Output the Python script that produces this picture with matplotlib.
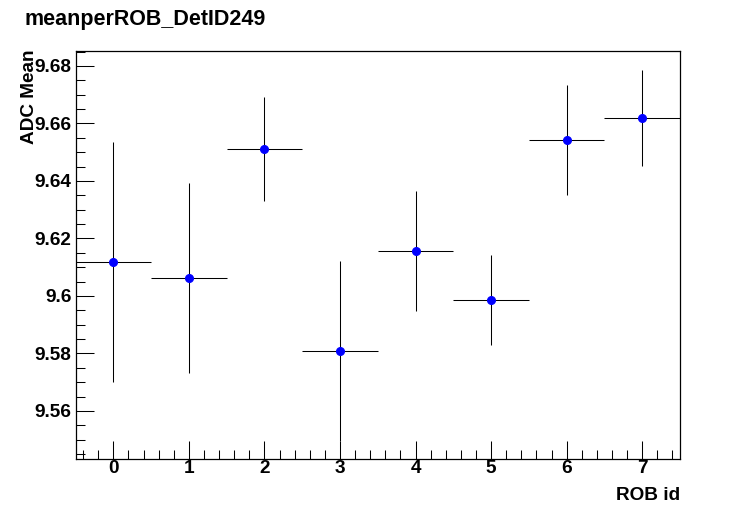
import numpy as np
import matplotlib
matplotlib.use("Agg")
from matplotlib import pyplot as plt
from matplotlib.ticker import MultipleLocator, FixedLocator

rob_id = [0, 1, 2, 3, 4, 5, 6, 7]
adc_mean = [9.6118, 9.6063, 9.6511, 9.5809, 9.6157, 9.5986, 9.6543, 9.6619]
adc_err = [0.0416, 0.0330, 0.0181, 0.0313, 0.0209, 0.0157, 0.0192, 0.0167]
y_ticks = [9.56, 9.58, 9.60, 9.62, 9.64, 9.66, 9.68]
y_labels = ["9.56", "9.58", "9.6", "9.62", "9.64", "9.66", "9.68"]

plt.rcParams['font.family'] = ['Liberation Sans', 'DejaVu Sans']
plt.rcParams['font.weight'] = 'bold'

fig = plt.figure(figsize=(7.56, 5.11), dpi=100)
ax = fig.add_axes([75.5 / 756, 1 - 459 / 511, (680 - 75.5) / 756, (459 - 51) / 511])

ax.errorbar(rob_id, adc_mean, xerr=0.5, yerr=adc_err, fmt='none',
            ecolor='black', elinewidth=0.75, capsize=0)
ax.plot(rob_id, adc_mean, 'o', color='blue', markersize=5.5, zorder=3)

ax.set_xlim(-0.5, 7.5)
ax.set_ylim(9.5433, 9.6852)

ax.xaxis.set_major_locator(MultipleLocator(1))
ax.xaxis.set_minor_locator(MultipleLocator(0.2))
ax.yaxis.set_major_locator(FixedLocator(y_ticks))
ax.set_yticklabels(y_labels)
ax.yaxis.set_minor_locator(MultipleLocator(0.005))

# ticks hacia dentro, estilo ROOT (solo abajo e izquierda)
ax.tick_params(axis='both', which='major', direction='in', length=13, width=0.75,
               labelsize=13.7, top=False, right=False)
ax.tick_params(axis='both', which='minor', direction='in', length=6.5, width=0.75,
               top=False, right=False)
ax.tick_params(axis='x', pad=0.5)
ax.tick_params(axis='y', pad=3)
for lab in ax.get_xticklabels() + ax.get_yticklabels():
    lab.set_fontweight('bold')
for s in ax.spines.values():
    s.set_linewidth(0.9)

fig.text(25 / 756, 1 - 25 / 511, "meanperROB_DetID249", fontsize=15.5,
         fontweight='bold', ha='left', va='baseline')
fig.text(680 / 756, 1 - 500 / 511, "ROB id", fontsize=13.7,
         fontweight='bold', ha='right', va='baseline')
fig.text(30 / 756, 1 - 50 / 511, "ADC Mean", fontsize=13.7, rotation=90,
         fontweight='bold', ha='center', va='top')

fig.savefig("out.png", dpi=100)
